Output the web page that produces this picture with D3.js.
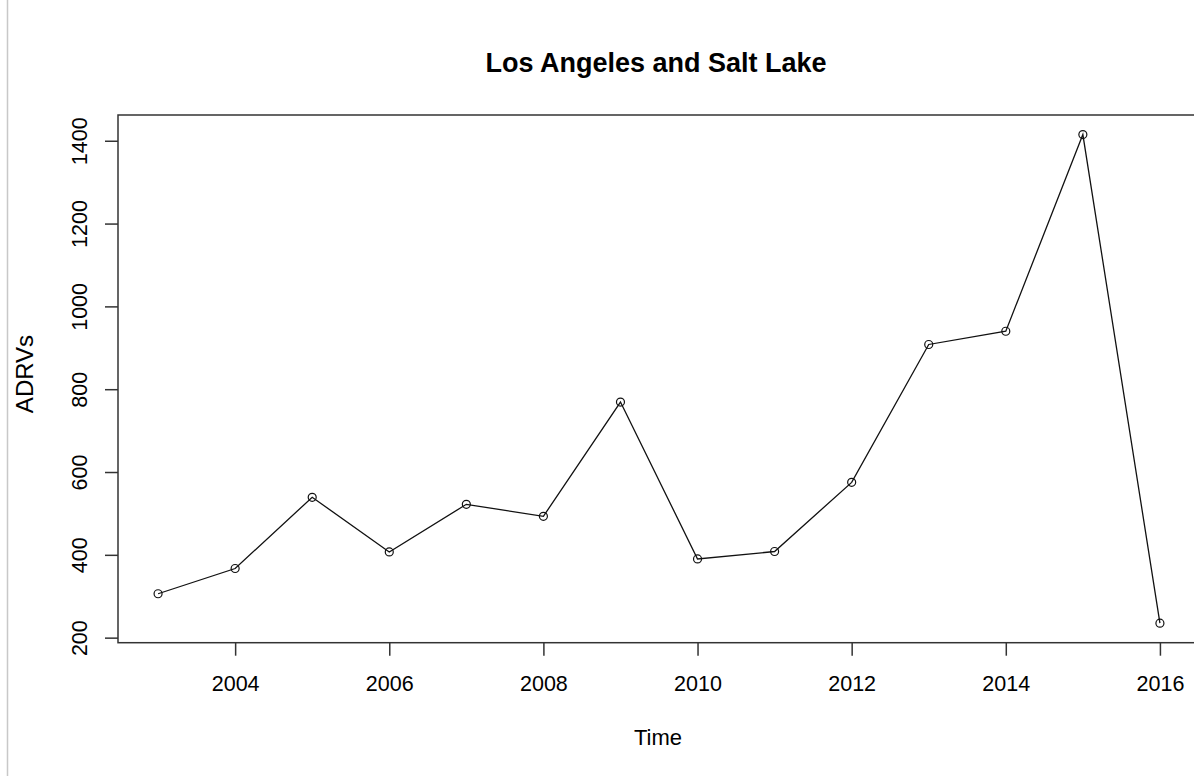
<!DOCTYPE html>
<html>
<head>
<meta charset="utf-8">
<script src="https://cdn.jsdelivr.net/npm/d3@7/dist/d3.min.js"></script>
<style>
  html, body { margin: 0; padding: 0; background: #fff; }
  svg { display: block; }
  text { font-family: "Liberation Sans", Arial, sans-serif; fill: #000; }
</style>
</head>
<body>
<svg id="chart" width="1194" height="776"></svg>
<script>
const years = [2003, 2004, 2005, 2006, 2007, 2008, 2009, 2010, 2011, 2012, 2013, 2014, 2015, 2016];
const adrvs = [306, 367, 539, 407, 522, 493, 769, 390, 408, 575, 908, 940, 1415, 235];
const xTicks = [2004, 2006, 2008, 2010, 2012, 2014, 2016];
const yTicks = [200, 400, 600, 800, 1000, 1200, 1400];
const titleText = "Los Angeles and Salt Lake";
const xLabel = "Time";
const yLabel = "ADRVs";

(function () {
const svg = d3.select("#chart");
const W = 1194, H = 776;
const pL = 118, pR = 1200, pT = 115, pB = 642.7;

// R-style 4% padding of the data range
const pad = (lo, hi) => { const r = hi - lo; return [lo - 0.04 * r, hi + 0.04 * r]; };
const x = d3.scaleLinear().domain(pad(d3.min(years), d3.max(years))).range([pL, pR]);
const y = d3.scaleLinear().domain(pad(d3.min(adrvs), d3.max(adrvs))).range([pB, pT]);

// gray vertical rule at the far left
svg.append("line").attr("x1", 7.5).attr("x2", 7.5).attr("y1", 0).attr("y2", H)
  .attr("stroke", "#c8c8c8").attr("stroke-width", 1.5);

// box
svg.append("rect").attr("x", pL).attr("y", pT)
  .attr("width", pR - pL).attr("height", pB - pT)
  .attr("fill", "none").attr("stroke", "#333").attr("stroke-width", 1.5);

// x axis
const xAxis = d3.axisBottom(x).tickValues(xTicks).tickFormat(d3.format("d")).tickSize(13).tickPadding(20);
const gx = svg.append("g").attr("transform", `translate(0,${pB})`).call(xAxis);
gx.select(".domain").remove();
gx.selectAll(".tick line").attr("stroke", "#333").attr("stroke-width", 1.5);
gx.selectAll(".tick text").style("font-size", "21.5px").attr("fill", "#000")
  .style("font-family", '"Liberation Sans", Arial, sans-serif');

// y axis
const yAxis = d3.axisLeft(y).tickValues(yTicks).tickFormat(d3.format("d")).tickSize(13).tickPadding(0);
const gy = svg.append("g").attr("transform", `translate(${pL},0)`).call(yAxis);
gy.select(".domain").remove();
gy.selectAll(".tick line").attr("stroke", "#333").attr("stroke-width", 1.5);
gy.selectAll(".tick text")
  .attr("x", null).attr("dy", null)
  .attr("text-anchor", "middle")
  .attr("transform", "translate(-31,0) rotate(-90)")
  .style("font-size", "21.5px").attr("fill", "#000")
  .style("font-family", '"Liberation Sans", Arial, sans-serif');

// line
const line = d3.line().x((d, i) => x(years[i])).y(d => y(d));
svg.append("path").datum(adrvs).attr("d", line)
  .attr("fill", "none").attr("stroke", "#111").attr("stroke-width", 1.3);

// points
svg.append("g").selectAll("circle").data(adrvs).join("circle")
  .attr("cx", (d, i) => x(years[i])).attr("cy", d => y(d)).attr("r", 4)
  .attr("fill", "none").attr("stroke", "#111").attr("stroke-width", 1.2);

// title
svg.append("text").attr("x", 656).attr("y", 72)
  .attr("text-anchor", "middle").style("font-size", "27px").style("font-weight", "bold")
  .text(titleText);

// x label
svg.append("text").attr("x", 658).attr("y", 745)
  .attr("text-anchor", "middle").style("font-size", "22px").text(xLabel);

// y label
svg.append("text").attr("transform", `translate(33,374) rotate(-90)`)
  .attr("text-anchor", "middle").style("font-size", "24px").text(yLabel);
})();
</script>
</body>
</html>
